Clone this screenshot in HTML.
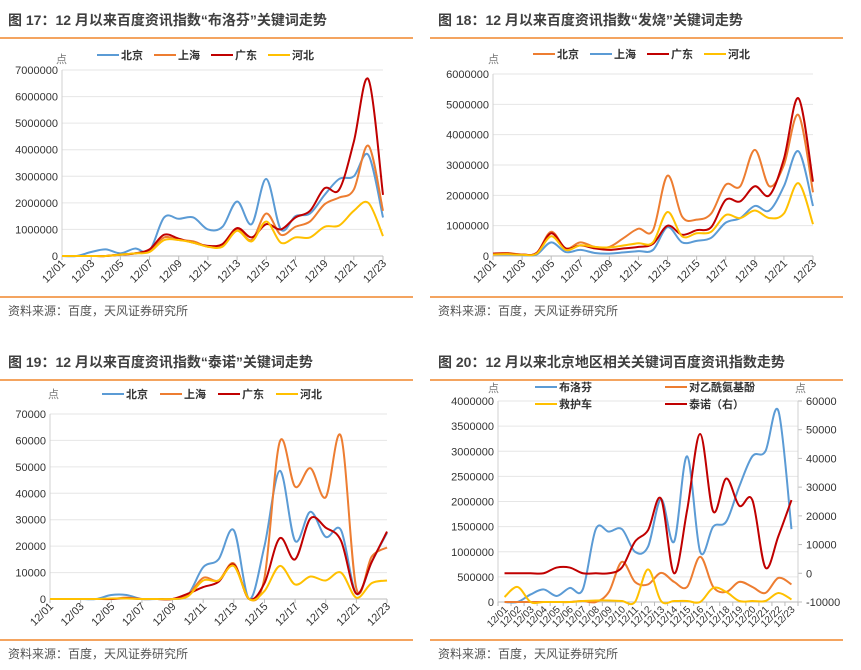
<!DOCTYPE html>
<html><head><meta charset="utf-8">
<style>
body{margin:0;width:861px;height:670px;background:#fff;overflow:hidden;font-family:"Liberation Sans","Noto Sans CJK SC",sans-serif;}
svg{position:absolute;left:0;top:0}
</style></head><body>
<svg id="s" width="861" height="670" xmlns="http://www.w3.org/2000/svg"></svg>
<script>
const dates=[];for(let i=1;i<=23;i++)dates.push('12/'+String(i).padStart(2,'0'));
const c17Beijing=[0,0,150e3,250e3,100e3,280e3,200e3,1450e3,1400e3,1450e3,1000e3,1100e3,2050e3,1200e3,2900e3,1000e3,1500e3,1600e3,2300e3,2900e3,3000e3,3800e3,1450e3];
const c17Shanghai=[0,0,0,0,50e3,100e3,200e3,700e3,600e3,550e3,350e3,400e3,1000e3,600e3,1600e3,800e3,1100e3,1300e3,1950e3,2200e3,2500e3,4150e3,1700e3];
const c17Guangdong=[0,0,0,0,50e3,100e3,250e3,800e3,650e3,500e3,380e3,450e3,1050e3,700e3,1200e3,1000e3,1450e3,1700e3,2550e3,2500e3,4300e3,6650e3,2300e3];
const c17Hebei=[0,0,0,0,50e3,100e3,150e3,600e3,600e3,500e3,350e3,350e3,950e3,550e3,1300e3,500e3,700e3,700e3,1100e3,1150e3,1700e3,2000e3,750e3];
const c18Beijing=[80e3,100e3,50e3,100e3,800e3,250e3,450e3,300e3,300e3,600e3,900e3,850e3,2650e3,1300e3,1200e3,1400e3,2350e3,2300e3,3500e3,2300e3,3000e3,4650e3,2100e3];
const c18Shanghai=[50e3,50e3,30e3,50e3,450e3,130e3,200e3,100e3,80e3,120e3,160e3,200e3,950e3,450e3,500e3,600e3,1100e3,1250e3,1650e3,1500e3,2300e3,3450e3,1650e3];
const c18Guangdong=[80e3,80e3,50e3,100e3,750e3,250e3,350e3,250e3,200e3,250e3,300e3,400e3,1000e3,700e3,850e3,950e3,1850e3,1800e3,2300e3,2000e3,3200e3,5200e3,2450e3];
const c18Hebei=[50e3,60e3,40e3,80e3,650e3,200e3,350e3,300e3,280e3,350e3,420e3,450e3,1450e3,650e3,750e3,800e3,1350e3,1250e3,1500e3,1250e3,1400e3,2400e3,1050e3];
const c19Beijing=[0,0,0,0,1500,1500,0,0,0,1500,12000,15000,26000,0,20000,48500,22000,33000,23500,26000,2000,14000,25000];
const c19Shanghai=[0,0,0,0,0,500,0,0,0,1500,8000,7000,13500,0,8000,59500,42500,49500,38500,61500,4000,16000,19500];
const c19Guangdong=[0,0,0,0,0,300,0,0,0,2000,4500,6500,13000,0,6000,23000,15000,30500,27000,22000,2000,14000,25500];
const c19Hebei=[0,0,0,0,200,200,0,0,0,1000,7000,7000,12500,0,3000,12500,5500,8500,7000,10000,500,6000,7000];
const c20Ibuprofen=[0,0,150e3,250e3,120e3,280e3,250e3,1450e3,1400e3,1450e3,1000e3,1100e3,2050e3,1200e3,2900e3,1000e3,1500e3,1600e3,2300e3,2900e3,3000e3,3800e3,1450e3];
const c20Paracetamol=[0,0,0,0,0,0,20e3,0,200e3,800e3,400e3,350e3,580e3,400e3,300e3,900e3,300e3,200e3,400e3,300e3,180e3,480e3,350e3];
const c20Ambulance=[100e3,300e3,0,0,0,0,20e3,30e3,30e3,20e3,0,650e3,20e3,20e3,20e3,0,280e3,200e3,20e3,20e3,20e3,180e3,50e3];
const c20Tylenol=[0,0,0,0,2000,2000,0,0,0,2000,11000,15000,26000,0,22000,48500,21500,33000,23500,25500,2000,13000,25500];
const ticks7M=[0,1e6,2e6,3e6,4e6,5e6,6e6,7e6];
const ticks6M=[0,1e6,2e6,3e6,4e6,5e6,6e6];
const ticks70k=[0,10000,20000,30000,40000,50000,60000,70000];
const ticks4M=[0,5e5,1e6,1.5e6,2e6,2.5e6,3e6,3.5e6,4e6];
const ticksRight=[-10000,0,10000,20000,30000,40000,50000,60000];

const BLUE='#5b9bd5',ORANGE='#ed7d31',RED='#c00000',YEL='#ffc000';
const S=document.getElementById('s');const NS='http://www.w3.org/2000/svg';
function el(t,a,p){const e=document.createElementNS(NS,t);for(const k in a)e.setAttribute(k,a[k]);(p||S).appendChild(e);return e;}
function txt(x,y,s,a,p){const e=el('text',Object.assign({x:x,y:y,'font-size':11,fill:'#333'},a),p);e.textContent=s;return e;}
function smooth(pts){let d='M'+pts[0][0]+','+pts[0][1];for(let i=0;i<pts.length-1;i++){const p0=pts[Math.max(0,i-1)],p1=pts[i],p2=pts[i+1],p3=pts[Math.min(pts.length-1,i+2)];const t=6;d+=' C'+(p1[0]+(p2[0]-p0[0])/t)+','+(p1[1]+(p2[1]-p0[1])/t)+' '+(p2[0]-(p3[0]-p1[0])/t)+','+(p2[1]-(p3[1]-p1[1])/t)+' '+p2[0]+','+p2[1];}return d;}

function panel(o){
  const g=el('g',{});
  
  
  const t=txt(o.px+8,o.ty,o.title,{'font-size':14,'font-weight':'bold',fill:'#404040'},g);
  
  el('line',{x1:o.px,x2:o.px+413,y1:o.ty+13,y2:o.ty+13,stroke:'#f4a460','stroke-width':2},g);
  el('line',{x1:o.px,x2:o.px+413,y1:o.by,y2:o.by,stroke:'#f4a460','stroke-width':2},g);
  const src=txt(o.px+8,o.by+18,'资料来源：百度，天风证券研究所',{'font-size':12,fill:'#555'},g);
  
  const n=dates.length;
  const xf=o.cat?(i=>o.x0+(o.x1-o.x0)*(i+0.5)/n):(i=>o.x0+(o.x1-o.x0)*i/(n-1));
  const yf=v=>o.y0-(v-o.ymin)/(o.ymax-o.ymin)*(o.y0-o.y1);
  const yr=o.rticks?(v=>o.y0-(v-o.rmin)/(o.rmax-o.rmin)*(o.y0-o.y1)):null;
  o.ticks.forEach(v=>{const y=yf(v);
    if(v!==o.ymin)el('line',{x1:o.x0,x2:o.x1,y1:y,y2:y,stroke:'#e6e6e6','stroke-width':1},g);
    const l=txt(o.x0-4,y+4,String(v),{'text-anchor':'end','font-size':11},g);
    });
  if(o.rticks)o.rticks.forEach(v=>{const y=yr(v);
    const l=txt(o.x1+8,y+4,String(v),{'font-size':11},g);
    
    el('line',{x1:o.x1,x2:o.x1+4,y1:y,y2:y,stroke:'#bbb'},g);});
  el('line',{x1:o.x0,x2:o.x0,y1:o.y1,y2:o.y0,stroke:'#d0d0d0'},g);
  if(o.rticks)el('line',{x1:o.x1,x2:o.x1,y1:o.y1,y2:o.y0,stroke:'#d0d0d0'},g);
  el('line',{x1:o.x0,x2:o.x1,y1:o.y0,y2:o.y0,stroke:'#bbb'},g);
  const step=o.cat?1:2;
  for(let i=0;i<n;i+=step){const x=o.cat?o.x0+(o.x1-o.x0)*i/n:xf(i);
    el('line',{x1:x,x2:x,y1:o.y0,y2:o.y0+4,stroke:'#bbb'},g);
    const cx=o.cat?xf(i):xf(i);
    const l=txt(cx+4,o.y0+8,dates[i],{'text-anchor':'end','font-size':o.cat?10:11,transform:'rotate(-45 '+(cx+4)+' '+(o.y0+8)+')'},g);
    }
  if(o.cat){const x=o.x1;el('line',{x1:x,x2:x,y1:o.y0,y2:o.y0+4,stroke:'#bbb'},g);}
  o.unit.forEach(u=>{const l=txt(u[0],u[1],'点',{'font-size':11,fill:'#777'},g);});
  o.series.forEach(s=>{const f=s.right?yr:yf;const pts=s.data.map((v,i)=>[xf(i),f(v)]);
    const p=el('path',{d:smooth(pts),fill:'none',stroke:s.color,'stroke-width':2},g);
    
    const lg=el('g',{},g);
    el('line',{x1:s.lx,x2:s.lx+22,y1:s.ly,y2:s.ly,stroke:s.color,'stroke-width':2},lg);
    txt(s.lx+24,s.ly+4,s.label,{'font-size':11,'font-weight':'bold'},lg);});
}
panel({name:'chart-17-ibuprofen',px:0,ty:25,by:297,title:'图 17：12 月以来百度资讯指数“布洛芬”关键词走势',x0:62,x1:383,y0:256,y1:70,ymin:0,ymax:7e6,ticks:ticks7M,unit:[[56,63]],
 series:[{key:'beijing',label:'北京',data:c17Beijing,color:BLUE,lx:97,ly:55},{key:'shanghai',label:'上海',data:c17Shanghai,color:ORANGE,lx:154,ly:55},{key:'guangdong',label:'广东',data:c17Guangdong,color:RED,lx:211,ly:55},{key:'hebei',label:'河北',data:c17Hebei,color:YEL,lx:268,ly:55}]});
panel({name:'chart-18-fever',px:430,ty:25,by:297,title:'图 18：12 月以来百度资讯指数“发烧”关键词走势',x0:493,x1:813,y0:256,y1:74,ymin:0,ymax:6e6,ticks:ticks6M,unit:[[488,63]],
 series:[{key:'beijing',label:'北京',data:c18Beijing,color:ORANGE,lx:533,ly:54},{key:'shanghai',label:'上海',data:c18Shanghai,color:BLUE,lx:590,ly:54},{key:'guangdong',label:'广东',data:c18Guangdong,color:RED,lx:647,ly:54},{key:'hebei',label:'河北',data:c18Hebei,color:YEL,lx:704,ly:54}]});
panel({name:'chart-19-tylenol',px:0,ty:367,by:640,title:'图 19：12 月以来百度资讯指数“泰诺”关键词走势',x0:50,x1:387,y0:599,y1:414,ymin:0,ymax:70000,ticks:ticks70k,unit:[[48,398]],
 series:[{key:'beijing',label:'北京',data:c19Beijing,color:BLUE,lx:102,ly:394},{key:'shanghai',label:'上海',data:c19Shanghai,color:ORANGE,lx:160,ly:394},{key:'guangdong',label:'广东',data:c19Guangdong,color:RED,lx:218,ly:394},{key:'hebei',label:'河北',data:c19Hebei,color:YEL,lx:276,ly:394}]});
panel({name:'chart-20-beijing-keywords',px:430,ty:367,by:640,cat:true,title:'图 20：12 月以来北京地区相关关键词百度资讯指数走势',x0:498,x1:798,y0:602,y1:401,ymin:0,ymax:4e6,ticks:ticks4M,rticks:ticksRight,rmin:-10000,rmax:60000,unit:[[488,392],[795,392]],
 series:[{key:'ibuprofen',label:'布洛芬',data:c20Ibuprofen,color:BLUE,lx:535,ly:387},{key:'paracetamol',label:'对乙酰氨基酚',data:c20Paracetamol,color:ORANGE,lx:665,ly:387},{key:'ambulance',label:'救护车',data:c20Ambulance,color:YEL,lx:535,ly:404},{key:'tylenol',label:'泰诺（右）',data:c20Tylenol,color:RED,right:true,lx:665,ly:404}]});
</script>
</body></html>
